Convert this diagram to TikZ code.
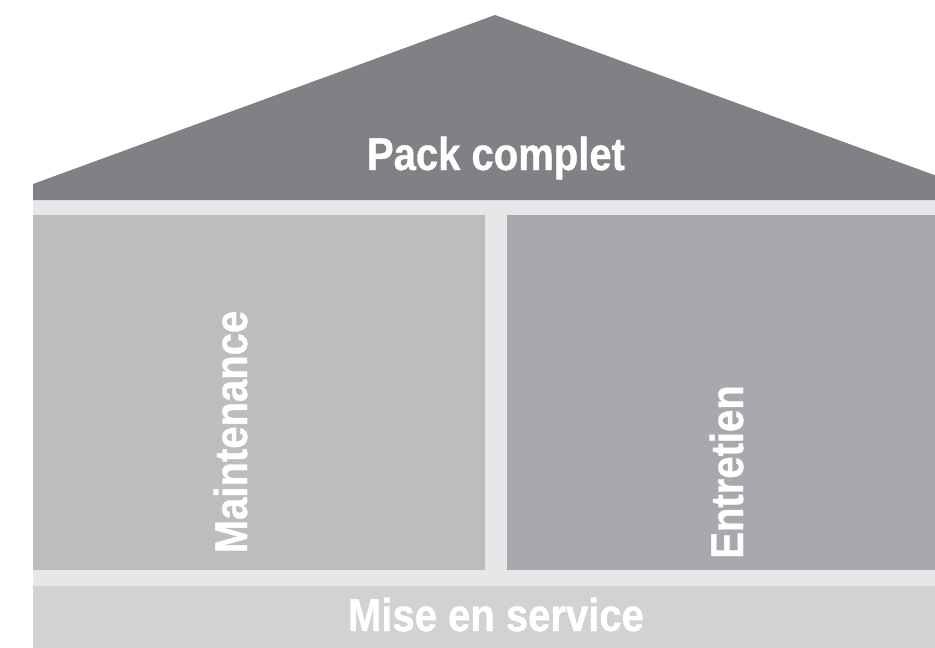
\documentclass[tikz,border=0pt]{standalone}
\usepackage{fontspec}
\newfontfamily\housefont[FakeStretch=0.87, BoldFeatures={FakeStretch=0.87, FakeBold=0.8}]{Liberation Sans}
\definecolor{roofgray}{HTML}{808184}
\definecolor{bandgray}{HTML}{E6E7E8}
\definecolor{leftgray}{HTML}{BCBDBF}
\definecolor{rightgray}{HTML}{A7A9AC}
\definecolor{basegray}{HTML}{D1D2D4}
\tikzset{
  label/.style={text=white, inner sep=0pt, anchor=base, font=\housefont\bfseries\fontsize{46}{50}\selectfont}
}
\begin{document}
\begin{tikzpicture}[x=1pt,y=-1pt]
\useasboundingbox (0,0) rectangle (935,648);
\clip (0,0) rectangle (935,648);
\fill[bandgray] (33,200) rectangle (959,586);
\fill[roofgray] (33,184) -- (495,15) -- (959,184) -- (959,200) -- (33,200) -- cycle;
\fill[leftgray] (33,215) rectangle (485,570);
\fill[rightgray] (507,215) rectangle (959,570);
\fill[basegray] (33,586) rectangle (959,648);
\node[label] (pack) at (496,170) {Pack complet};
\node[label] (mise) at (496,631) {Mise en service};
\node[label, rotate=90] (maint) at (247,432) {Maintenance};
\node[label, rotate=90] (entr) at (743,472) {Entretien};
\end{tikzpicture}
\end{document}
